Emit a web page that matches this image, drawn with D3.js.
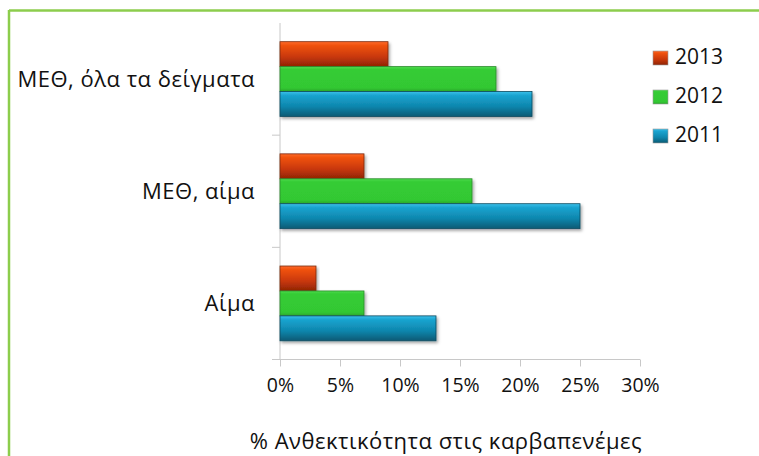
<!DOCTYPE html>
<html>
<head>
<meta charset="utf-8">
<script src="https://cdn.jsdelivr.net/npm/d3@7"></script>
<style>
  html, body { margin: 0; padding: 0; background: #fff; }
  svg { display: block; }
  text { font-family: "Open Sans", "DejaVu Sans", sans-serif; fill: #111; }
</style>
</head>
<body>
<svg id="chart" width="759" height="456"></svg>
<script>
// Carbapenem resistance by sample type and year (%)
const categories = ["ΜΕΘ, όλα τα δείγματα", "ΜΕΘ, αίμα", "Αίμα"];
const years = ["2013", "2012", "2011"];
const values2013 = [9, 7, 3];
const values2012 = [18, 16, 7];
const values2011 = [21, 25, 13];
const xTicks = [0, 5, 10, 15, 20, 25, 30];
const axisTitle = "% Ανθεκτικότητα στις καρβαπενέμες";

const seriesByYear = { "2013": values2013, "2012": values2012, "2011": values2011 };

const svg = d3.select("#chart");
const W = 759, H = 456;

// Frame lines on the left and top
svg.append("line").attr("x1", 9).attr("x2", 9).attr("y1", 10).attr("y2", H)
  .attr("stroke", "#8ccd4c").attr("stroke-width", 2.5);
svg.append("line").attr("x1", 9).attr("x2", W).attr("y1", 10.5).attr("y2", 10.5)
  .attr("stroke", "#8ccd4c").attr("stroke-width", 2.5);

const plot = { left: 280, right: 640, top: 23, bottom: 359.5 };

const x = d3.scaleLinear().domain([0, 30]).range([plot.left, plot.right]);
const y = d3.scaleBand().domain(categories).range([plot.top, plot.bottom]);
const yInner = d3.scaleBand().domain(years).range([0, y.bandwidth()])
  .paddingInner(0).paddingOuter(0.75);

const defs = svg.append("defs");
const palettes = {
  "2013": [["0%", "#ff6a2a"], ["15%", "#f0520f"], ["60%", "#c9380a"], ["100%", "#8f2405"]],
  "2012": [["0%", "#4fdc4f"], ["12%", "#35cc35"], ["85%", "#33c833"], ["100%", "#2aa82a"]],
  "2011": [["0%", "#3cc0ea"], ["15%", "#1aa4d0"], ["60%", "#0e86ad"], ["100%", "#0a5a74"]]
};
const strokes = { "2013": "#7a2a10", "2012": "#2c8a2c", "2011": "#0b4a60" };
Object.entries(palettes).forEach(([k, stops]) => {
  const g = defs.append("linearGradient").attr("id", "g" + k)
    .attr("x1", 0).attr("x2", 0).attr("y1", 0).attr("y2", 1);
  stops.forEach(s => g.append("stop").attr("offset", s[0]).attr("stop-color", s[1]));
});
const shadow = defs.append("filter").attr("id", "shadow")
  .attr("x", "-5%").attr("y", "-20%").attr("width", "115%").attr("height", "160%");
shadow.append("feDropShadow").attr("dx", 1.5).attr("dy", 2).attr("stdDeviation", 1.5)
  .attr("flood-color", "#000").attr("flood-opacity", 0.35);

// Axis lines
const axisColor = "#c8c8c8";
svg.append("line").attr("x1", plot.left).attr("x2", plot.left)
  .attr("y1", plot.top).attr("y2", plot.bottom).attr("stroke", axisColor);
svg.append("line").attr("x1", plot.left - 8).attr("x2", plot.right)
  .attr("y1", plot.bottom).attr("y2", plot.bottom).attr("stroke", axisColor);

// Category separators on the vertical axis
categories.slice(1).forEach(c => {
  svg.append("line").attr("x1", plot.left - 8).attr("x2", plot.left)
    .attr("y1", y(c)).attr("y2", y(c)).attr("stroke", axisColor);
});

// Value axis ticks and labels
const xAxis = d3.axisBottom(x).tickValues(xTicks).tickSize(7).tickPadding(12)
  .tickFormat(d => d + "%");
const gx = svg.append("g").attr("transform", `translate(0,${plot.bottom})`).call(xAxis);
gx.select(".domain").remove();
gx.selectAll(".tick line").attr("stroke", axisColor);
gx.selectAll(".tick text").attr("font-size", 19.5).attr("fill", "#111")
  .attr("font-family", "Open Sans, DejaVu Sans, sans-serif");

// Category labels
svg.append("g").selectAll("text").data(categories).join("text")
  .attr("x", 255).attr("y", d => y(d) + y.bandwidth() / 2 - 1)
  .attr("text-anchor", "end").attr("dominant-baseline", "central")
  .attr("font-size", 22).attr("letter-spacing", 0.5).text(d => d);

// Bars
const groups = svg.append("g").selectAll("g").data(categories).join("g")
  .attr("transform", d => `translate(0,${y(d)})`);
groups.selectAll("rect")
  .data((c, i) => years.map(yr => ({ yr, v: seriesByYear[yr][i] })))
  .join("rect")
  .attr("x", x(0))
  .attr("y", d => yInner(d.yr))
  .attr("width", d => x(d.v) - x(0))
  .attr("height", yInner.bandwidth())
  .attr("fill", d => `url(#g${d.yr})`)
  .attr("stroke", d => strokes[d.yr]).attr("stroke-width", 0.8)
  .attr("filter", "url(#shadow)");

// Legend
const legend = svg.append("g").selectAll("g").data(years).join("g")
  .attr("transform", (d, i) => `translate(653,${58 + i * 39})`);
legend.append("rect").attr("x", 0).attr("y", -7).attr("width", 15).attr("height", 14)
  .attr("fill", d => `url(#g${d})`).attr("stroke", "#999").attr("stroke-width", 0.6);
legend.append("text").attr("x", 22).attr("y", -2).attr("dominant-baseline", "central")
  .attr("font-size", 21).text(d => d);

// Axis title
svg.append("text").attr("x", 446).attr("y", 440).attr("text-anchor", "middle")
  .attr("dominant-baseline", "central").attr("font-size", 22).attr("letter-spacing", 0.5)
  .text(axisTitle);
</script>
</body>
</html>
